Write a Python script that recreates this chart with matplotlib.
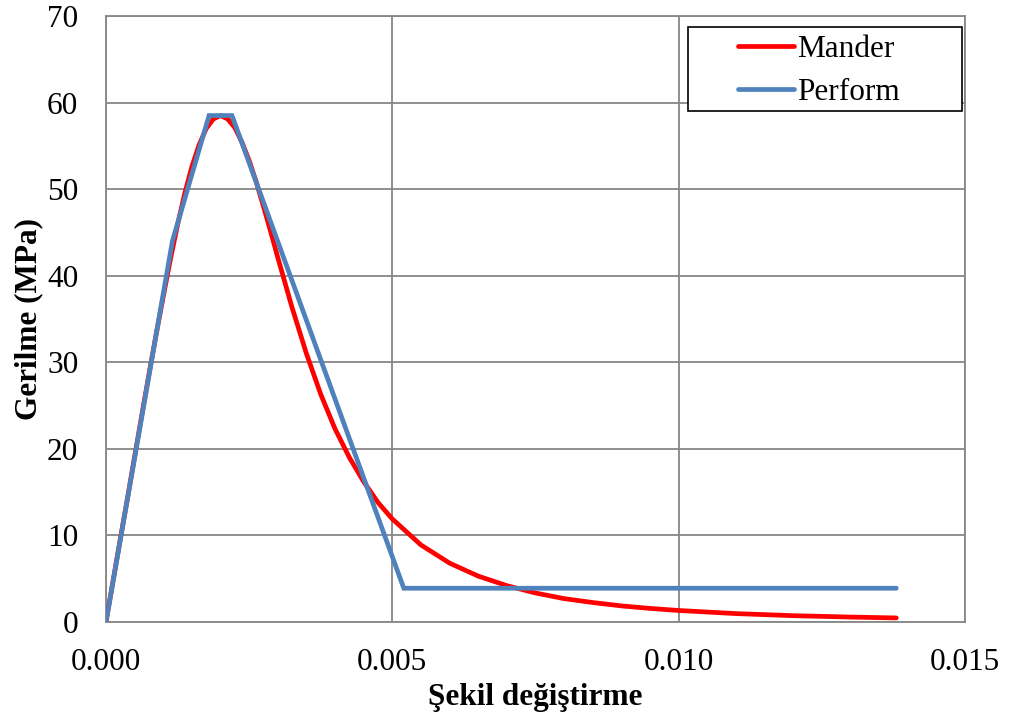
import matplotlib
matplotlib.use("Agg")
import matplotlib.pyplot as plt
from matplotlib.patches import Rectangle

# Mander curve
mander_strain = [0.0, 0.000125, 0.00025, 0.000375, 0.0005, 0.000625, 0.00075, 0.000875,
                 0.001, 0.001125, 0.00125, 0.001375, 0.0015, 0.001625, 0.00175, 0.001875,
                 0.002, 0.002125, 0.00225, 0.002375, 0.0025, 0.002625, 0.00275, 0.002875,
                 0.003, 0.00325, 0.0035, 0.00375, 0.004, 0.00425, 0.0045, 0.00475,
                 0.005, 0.0055, 0.006, 0.0065, 0.007, 0.0075, 0.008, 0.0085,
                 0.009, 0.0095, 0.010, 0.011, 0.012, 0.013, 0.0138]
mander_stress = [0.0, 4.8, 9.6, 14.3, 19.1, 23.9, 28.6, 33.2,
                 37.6, 41.9, 45.9, 49.5, 52.6, 55.1, 57.0, 58.1,
                 58.5, 58.1, 57.1, 55.4, 53.3, 50.8, 48.0, 45.1,
                 42.1, 36.3, 31.0, 26.3, 22.3, 19.0, 16.2, 13.8,
                 11.9, 8.9, 6.8, 5.3, 4.2, 3.35, 2.7, 2.25,
                 1.86, 1.57, 1.33, 0.97, 0.73, 0.57, 0.47]

# Perform curve
perform_strain = [0.0, 0.00116, 0.0018, 0.0022, 0.0052, 0.0138]
perform_stress = [0.0, 44.0, 58.5, 58.5, 3.9, 3.9]

xticks = [0.000, 0.005, 0.010, 0.015]
xticklabels = ["0.000", "0.005", "0.010", "0.015"]
yticks = [0, 10, 20, 30, 40, 50, 60, 70]

plt.rcParams['font.family'] = ['Liberation Serif', 'DejaVu Serif']

W, H = 1013, 719
fig = plt.figure(figsize=(W/100, H/100), dpi=100)
ax = fig.add_axes([106/W, 1-622/H, (965-106)/W, (622-16)/H])

grid_c = "#878787"
ax.plot(mander_strain, mander_stress, color="#FF0000", lw=3.4,
        solid_capstyle="round", solid_joinstyle="round", label="Mander", zorder=3)
ax.plot(perform_strain, perform_stress, color="#4F81BD", lw=3.4,
        solid_capstyle="round", solid_joinstyle="miter", label="Perform", zorder=4)

ax.set_xlim(0, 0.015)
ax.set_ylim(0, 70)
ax.set_xticks(xticks)
ax.set_xticklabels(xticklabels)
ax.set_yticks(yticks)
ax.grid(True, color=grid_c, lw=1.3)
ax.set_axisbelow(True)
for s in ax.spines.values():
    s.set_color(grid_c)
    s.set_linewidth(1.3)
ax.tick_params(length=0, labelsize=22.5, colors="black")
ax.tick_params(axis="x", pad=19)
ax.tick_params(axis="y", pad=20)

ax.set_xlabel("Şekil değiştirme", fontsize=22.5, fontweight="bold", labelpad=4)
ax.set_ylabel("Gerilme (MPa)", fontsize=22.5, fontweight="bold", labelpad=3)

# legend box (Excel-style, wide)
box = Rectangle((688/W, 1-111/H), (962-688)/W, (111-27)/H, transform=fig.transFigure,
                facecolor="white", edgecolor="black", linewidth=1.2, zorder=5)
fig.add_artist(box)

leg = ax.legend(loc="upper left", bbox_to_anchor=(738/W, 1-35/H),
                bbox_transform=fig.transFigure, fontsize=22.5, frameon=False,
                handlelength=1.78, handletextpad=0.12, borderpad=0,
                labelspacing=0.45, borderaxespad=0)
leg.set_zorder(6)
fig.add_artist(leg)

fig.savefig("out.png", dpi=100)
